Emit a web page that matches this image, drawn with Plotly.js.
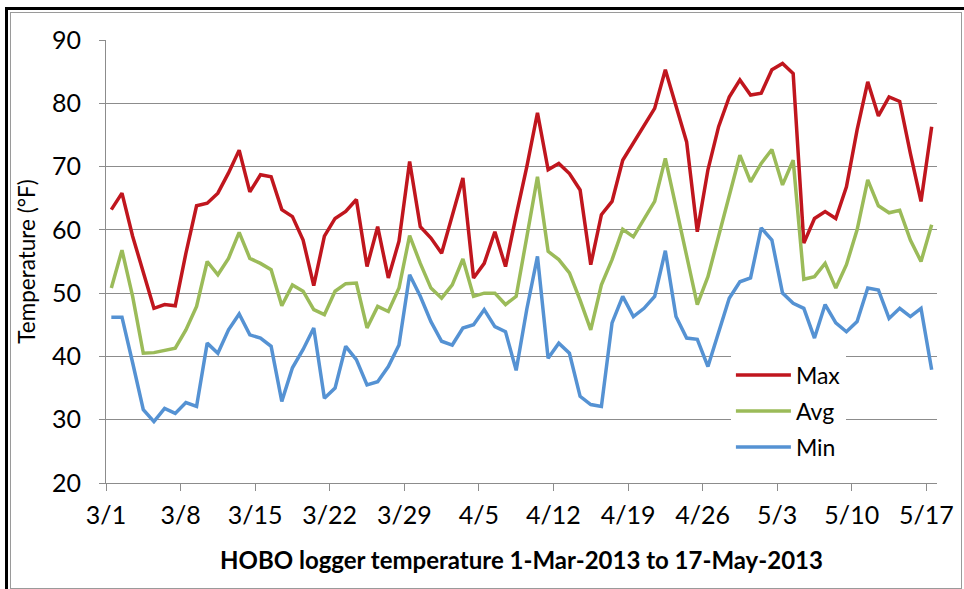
<!DOCTYPE html>
<html>
<head>
<meta charset="utf-8">
<script src="https://cdn.plot.ly/plotly-3.0.1.min.js"></script>
<style>
html,body{margin:0;padding:0;background:#fff;}
#frame{position:absolute;left:0;top:0;width:964px;height:589px;overflow:hidden;background:#fff;}
#blackL{position:absolute;left:5px;top:7px;width:3px;height:582px;background:#000;}
#blackT{position:absolute;left:5px;top:7px;width:959px;height:3px;background:#000;}
#grayBox{position:absolute;left:10px;top:12px;width:950px;height:575px;border:1px solid #9a9a9a;}
#chart{position:absolute;left:0;top:0;width:964px;height:589px;}
</style>
</head>
<body>
<div id="frame">
<div id="blackL"></div><div id="blackT"></div><div id="grayBox"></div>
<div id="chart"></div>
</div>
<script>
// Data: daily temperatures (°F), 1-Mar-2013 .. 17-May-2013
var startDate = '2013-03-01';
var maxTemp = [63.2,65.8,59.0,53.2,47.6,48.2,48.0,56.3,63.8,64.2,65.8,69.0,72.6,66.0,68.7,68.4,63.2,62.1,58.4,51.2,
  59.0,61.8,62.9,64.8,54.2,60.5,52.4,58.2,70.8,60.5,58.7,56.3,62.1,68.2,52.4,54.7,59.7,54.2,62.3,70.0,
  78.5,69.5,70.5,68.9,66.3,54.5,62.4,64.5,71.0,73.7,76.6,79.2,85.3,79.5,73.9,59.7,69.5,76.3,81.0,83.7,
  81.3,81.6,85.3,86.3,84.7,57.9,61.8,62.9,61.8,66.8,75.8,83.4,78.0,81.0,80.3,72.1,64.5,76.3];
var avgTemp = [50.8,56.8,49.5,40.5,40.6,41.0,41.3,44.2,47.9,55.0,52.9,55.5,59.6,55.5,54.7,53.7,48.0,51.3,50.3,47.4,
  46.6,50.3,51.5,51.6,44.5,47.9,47.1,50.8,59.1,54.7,50.8,49.2,51.3,55.4,49.5,50.0,50.0,48.2,49.5,58.9,
  68.4,56.6,55.3,53.2,48.9,44.2,51.3,55.3,60.1,58.9,61.6,64.5,71.3,63.8,56.0,48.2,52.6,58.9,65.3,71.8,
  67.6,70.5,72.7,67.1,71.0,52.2,52.6,54.7,50.8,54.5,60.0,67.9,63.8,62.7,63.1,58.4,55.0,60.8];
var minTemp = [46.2,46.2,39.0,31.6,29.7,31.8,31.0,32.7,32.1,42.1,40.5,44.2,46.7,43.4,42.9,41.6,32.9,38.2,41.1,44.5,
  33.4,35.0,41.6,39.5,35.5,36.0,38.4,41.8,52.9,49.5,45.5,42.4,41.8,44.5,45.0,47.4,44.7,43.9,37.8,47.5,
  55.8,39.7,42.1,40.5,33.7,32.4,32.1,45.3,49.5,46.3,47.6,49.5,56.7,46.3,42.9,42.7,38.4,43.7,49.2,51.8,
  52.4,60.3,58.4,50.0,48.4,47.6,42.9,48.2,45.3,43.9,45.5,50.8,50.5,46.0,47.6,46.3,47.6,37.9];
var seriesNames = ['Max','Avg','Min'];
var yTickVals = [20,30,40,50,60,70,80,90];
var xTitle = 'HOBO logger temperature 1-Mar-2013 to 17-May-2013';
var yTitle = 'Temperature (\u00B0F)';

// day-centred date positions
var days = [];
var d0 = new Date(startDate + 'T12:00:00Z');
for (var i = 0; i < maxTemp.length; i++) {
  var d = new Date(d0.getTime() + i * 86400000);
  days.push(d.toISOString().slice(0,10) + ' 12:00');
}

var colors = ['#C0161E','#9BBB59','#5592D3'];
var vals = [maxTemp, avgTemp, minTemp];
var traces = vals.map(function(v, k){
  return {x: days, y: v, type:'scatter', mode:'lines', name: seriesNames[k],
          line:{color: colors[k], width:3.5}, legendgroup: 'g'+k};
});

var grid = '#8c8c8c';
var tickFamily = '"Liberation Sans Narrow", "Arial Narrow", Lato, sans-serif';
var layout = {
  width: 964, height: 589,
  paper_bgcolor: 'rgba(0,0,0,0)', plot_bgcolor: 'rgba(0,0,0,0)',
  margin: {l:106, r:27, t:40, b:106},
  showlegend: true,
  legend: {x: 0.752, y: 0.292, xanchor:'left', yanchor:'top', bgcolor:'#ffffff',
           font:{family:'Lato, sans-serif', size:23, color:'#000'}, tracegroupgap: 3, itemwidth: 55},
  xaxis: {
    type:'date', range:['2013-03-01','2013-05-18'],
    tick0:'2013-03-01', dtick: 7*86400000, tickformat:'%-m/%-d',
    showgrid:false, zeroline:false,
    showline:true, linecolor:grid, linewidth:1,
    ticks:'outside', ticklen:7, tickcolor:grid, tickwidth:1,
    ticklabelstandoff: 3,
    tickfont:{family:tickFamily, size:25, color:'#000'},
    title:{text:xTitle, font:{family:'Lato, sans-serif', size:24, color:'#000', weight:'bold'}, standoff: 24}
  },
  yaxis: {
    range:[20,90], tickvals: yTickVals, ticktext: yTickVals.map(String),
    showgrid:true, gridcolor:grid, gridwidth:1, zeroline:false,
    showline:true, linecolor:grid, linewidth:1,
    ticks:'outside', ticklen:6, tickcolor:grid, tickwidth:1,
    ticklabelstandoff: 13,
    tickfont:{family:tickFamily, size:25, color:'#000'},
    title:{text:yTitle, font:{family:'Lato, sans-serif', size:22.5, color:'#000'}, standoff: 10}
  }
};
Plotly.newPlot('chart', traces, layout, {displayModeBar:false, staticPlot:true});
</script>
</body>
</html>
